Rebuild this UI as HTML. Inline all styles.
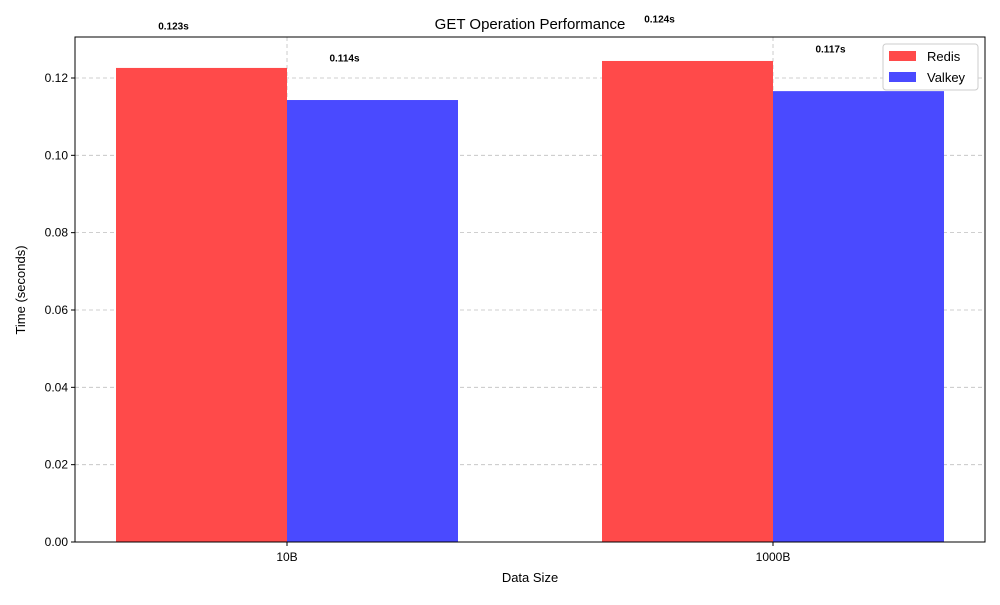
<!DOCTYPE html>
<html><head><meta charset="utf-8"><style>
body{margin:0;background:#fff;font-family:"Liberation Sans",sans-serif}
</style></head><body>
<svg id="c" width="1000" height="600" xmlns="http://www.w3.org/2000/svg"></svg>
<script>
const categories=["10B","1000B"];
const redisVals=[0.1226,0.1244];
const valkeyVals=[0.1143,0.1166];
const redisLabels=["0.123s","0.124s"];
const valkeyLabels=["0.114s","0.117s"];
const yTicks=[0,0.02,0.04,0.06,0.08,0.10,0.12];
const yTickLabels=["0.00","0.02","0.04","0.06","0.08","0.10","0.12"];

const L=75,R=985,T=37,B=542,yMax=0.1306;
const y=v=>B-(v/yMax)*(B-T);
const xc=i=>287+i*486;
const bw=171;
const svg=document.getElementById('c');
const NS="http://www.w3.org/2000/svg";
function mk(tag,attrs,parent){const e=document.createElementNS(NS,tag);for(const k in attrs)e.setAttribute(k,attrs[k]);(parent||svg).appendChild(e);return e;}
function txt(s,attrs){const e=mk('text',attrs);e.textContent=s;return e;}

// grid
yTicks.forEach((t,i)=>{
  const g=mk('line',{x1:L,x2:R,y1:y(t),y2:y(t),stroke:'#b0b0b0','stroke-dasharray':'4,3','stroke-width':0.8,opacity:0.8});
  
  
});
categories.forEach((c,i)=>{
  const g=mk('line',{x1:xc(i),x2:xc(i),y1:T,y2:B,stroke:'#b0b0b0','stroke-dasharray':'4,3','stroke-width':0.8,opacity:0.8});
  
  
});
// bars
categories.forEach((c,i)=>{
  const r=mk('rect',{x:xc(i)-bw,y:y(redisVals[i]),width:bw,height:B-y(redisVals[i]),fill:'#ff4a4a'});
  
  
  const v=mk('rect',{x:xc(i),y:y(valkeyVals[i]),width:bw,height:B-y(valkeyVals[i]),fill:'#4a4aff'});
  
  
  const a=txt(redisLabels[i],{x:xc(i)-bw/2-28,y:y(redisVals[i]+0.011)+4,'text-anchor':'middle','font-size':10,'font-weight':'bold'});
  
  
  const b=txt(valkeyLabels[i],{x:xc(i)+bw/2-28,y:y(valkeyVals[i]+0.011)+4,'text-anchor':'middle','font-size':10,'font-weight':'bold'});
  
  
  const tk=mk('line',{x1:xc(i),x2:xc(i),y1:B,y2:B+4,stroke:'#000'});
  
  
  const tl=txt(c,{x:xc(i),y:B+19,'text-anchor':'middle','font-size':12});
  
  
});
yTicks.forEach((t,i)=>{
  const tk=mk('line',{x1:L-4,x2:L,y1:y(t),y2:y(t),stroke:'#000'});
  
  
  const tl=txt(yTickLabels[i],{x:L-7,y:y(t)+4,'text-anchor':'end','font-size':12});
  
  
});
const fr=mk('rect',{x:L,y:T,width:R-L,height:B-T,fill:'none',stroke:'#000','stroke-width':1});


const ti=txt('GET Operation Performance',{x:530,y:29,'text-anchor':'middle','font-size':15});


const xt=txt('Data Size',{x:530,y:582,'text-anchor':'middle','font-size':13});


const yt=txt('Time (seconds)',{x:25,y:290,'text-anchor':'middle','font-size':13,transform:'rotate(-90 25 290)'});


// legend
const lg=mk('rect',{x:883,y:44,width:95,height:46,fill:'#fff',stroke:'#ccc',rx:3});


[['Redis','#ff4a4a',51],['Valkey','#4a4aff',72]].forEach(([n,col,yy])=>{
  const s=mk('rect',{x:889,y:yy,width:27,height:10,fill:col});
  
  
  const t=txt(n,{x:927,y:yy+10,'font-size':13});
  
  
});
</script>
</body></html>
